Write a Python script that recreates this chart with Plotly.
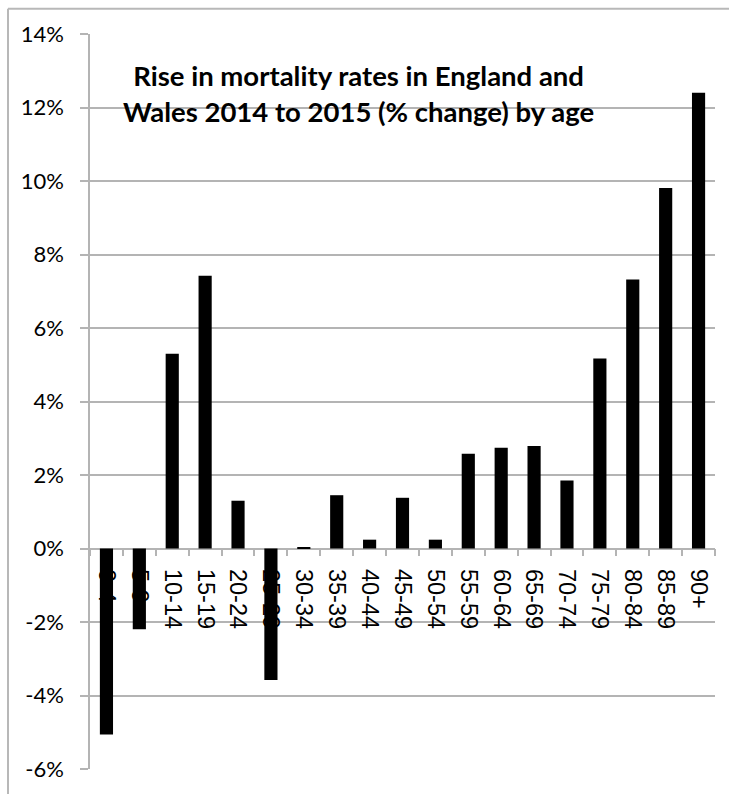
import plotly.graph_objects as go

categories = ["0-4", "5-9", "10-14", "15-19", "20-24", "25-29", "30-34", "35-39",
              "40-44", "45-49", "50-54", "55-59", "60-64", "65-69", "70-74",
              "75-79", "80-84", "85-89", "90+"]
pct_change = [-5.06, -2.2, 5.3, 7.42, 1.3, -3.58, 0.03, 1.45, 0.24, 1.38, 0.24,
              2.58, 2.74, 2.79, 1.85, 5.17, 7.32, 9.81, 12.4]
y_ticks = [-6, -4, -2, 0, 2, 4, 6, 8, 10, 12, 14]
y_tick_labels = [f"{v}%" for v in y_ticks]
title_text = "Rise in mortality rates in England and<br>Wales 2014 to 2015 (% change) by age"

GRID = "#b4b4b4"
FONT = "Lato"

fig = go.Figure(go.Bar(
    x=categories, y=pct_change, marker=dict(color="black", line=dict(width=0)),
    width=0.4,
))

fig.update_layout(
    width=729, height=794,
    margin=dict(l=90, r=14, t=33.5, b=21),
    paper_bgcolor="white", plot_bgcolor="white",
    showlegend=False,
    font=dict(family=FONT, size=21, color="black"),
)

fig.update_yaxes(
    range=[-6, 14], tickvals=y_ticks, ticktext=y_tick_labels,
    showgrid=True, gridcolor=GRID, gridwidth=1.5,
    zeroline=False,
    showline=True, linecolor=GRID, linewidth=1.5,
    ticks="outside", ticklen=8, tickcolor=GRID, tickwidth=1.5,
    ticklabelstandoff=12,
    tickfont=dict(family=FONT, size=22, color="black"),
)

fig.update_xaxes(
    anchor="free", position=0.3,
    showline=True, linecolor=GRID, linewidth=1.5,
    ticks="outside", ticklen=7, tickcolor=GRID, tickwidth=1.5,
    tickson="boundaries", tickangle=90,
    ticklabelstandoff=15,
    showgrid=False, zeroline=False,
    layer="below traces",
    tickfont=dict(family="Liberation Sans", size=23.5, color="black"),
)

fig.add_annotation(
    text="<b>" + title_text + "</b>", xref="paper", yref="paper",
    x=0.429, y=0.9195, xanchor="center", yanchor="middle", showarrow=False,
    align="center", font=dict(family=FONT, size=27.5, color="black"),
)

# outer chart border (top and left edges visible)
fig.add_shape(type="line", xref="paper", yref="paper", x0=-0.1312, x1=1.2, y0=1.0345, y1=1.0345,
              line=dict(color="#b8b8b8", width=2))
fig.add_shape(type="line", xref="paper", yref="paper", x0=-0.1312, x1=-0.1312, y0=-0.2, y1=1.0345,
              line=dict(color="#b8b8b8", width=2))

fig.write_html("out.html")
